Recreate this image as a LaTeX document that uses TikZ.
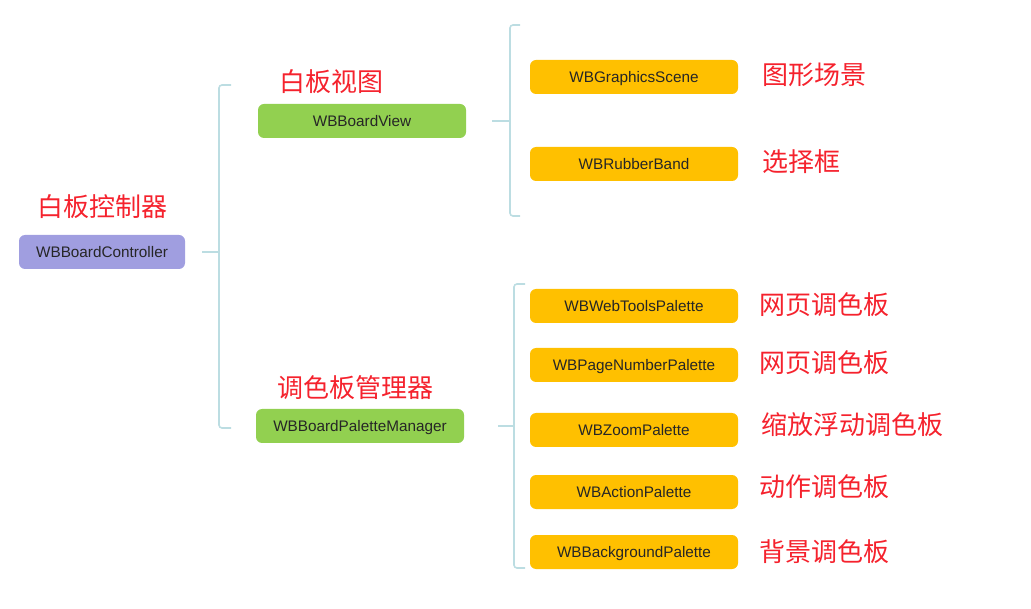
\documentclass[tikz,border=0pt]{standalone}
\usepackage{fontspec}
\setmainfont{Liberation Sans}
\newfontfamily\cjk{Noto Sans CJK SC}
\usetikzlibrary{positioning}
\definecolor{rootblue}{HTML}{A09EE0}
\definecolor{viewgreen}{HTML}{92D050}
\definecolor{leaforange}{HTML}{FFC000}
\definecolor{bracecyan}{HTML}{BCDDE2}
\definecolor{notered}{HTML}{F5222D}
\tikzset{
  box/.style={rounded corners=6pt, minimum height=34pt, inner sep=0pt,
    text height=10.9pt, text depth=0pt,
    font=\fontsize{15.3}{17}\selectfont, text=black!85},
  rootbox/.style={box, fill=rootblue, minimum width=166pt},
  midbox/.style={box, fill=viewgreen, minimum width=208pt},
  leafbox/.style={box, fill=leaforange, minimum width=208pt},
  note/.style={text=notered, font=\cjk\fontsize{26}{28}\selectfont, inner sep=0pt},
  brace/.style={draw=bracecyan, line width=1.6pt, rounded corners=3pt},
}
\newcommand{\drawbrace}[4]{% {x}{top}{bottom}{tick}
  \draw[brace] (#1+#4,#2) -- (#1,#2) -- (#1,#3) -- (#1+#4,#3);
}

\begin{document}
\begin{tikzpicture}[x=1pt,y=-1pt]
  \useasboundingbox (0,0) rectangle (1031,609);
  % Root
  \node[rootbox] (root) at (102,252) {WBBoardController};
  \node[note] (rootnote) at (102,207) {白板控制器};
  % Second level
  \node[midbox] (view) at (362,121) {WBBoardView};
  \node[note] (viewnote) at (331,82) {白板视图};
  \node[midbox] (mgr) at (360,426) {WBBoardPaletteManager};
  \node[note] (mgrnote) at (355,388) {调色板管理器};
  % View children
  \node[leafbox] (scene) at (634,77) {WBGraphicsScene};
  \node[note, anchor=west] (scenenote) at (762,75) {图形场景};
  \node[leafbox] (band) at (634,164) {WBRubberBand};
  \node[note, anchor=west] (bandnote) at (762,162) {选择框};
  % Palette children
  \node[leafbox] (web) at (634,306) {WBWebToolsPalette};
  \node[note, anchor=west] (webnote) at (759,305) {网页调色板};
  \node[leafbox] (page) at (634,365) {WBPageNumberPalette};
  \node[note, anchor=west] (pagenote) at (759,363) {网页调色板};
  \node[leafbox] (zoom) at (634,430) {WBZoomPalette};
  \node[note, anchor=west] (zoomnote) at (761,425) {缩放浮动调色板};
  \node[leafbox] (action) at (634,492) {WBActionPalette};
  \node[note, anchor=west] (actionnote) at (759,487) {动作调色板};
  \node[leafbox] (bg) at (634,552) {WBBackgroundPalette};
  \node[note, anchor=west] (bgnote) at (759,552) {背景调色板};
  % Brackets
  \coordinate (rootjoin) at (219,252);
  \coordinate (viewjoin) at (510,121);
  \coordinate (mgrjoin) at (514,426);
  \drawbrace{219}{85}{428}{12}
  \drawbrace{510}{25}{216}{10}
  \drawbrace{514}{284}{568}{11}
  % Stems
  \draw[brace] ([xshift=17pt]root.east) -- (rootjoin);
  \draw[brace] ([xshift=26pt]view.east) -- (viewjoin);
  \draw[brace] ([xshift=34pt]mgr.east) -- (mgrjoin);
\end{tikzpicture}
\end{document}
